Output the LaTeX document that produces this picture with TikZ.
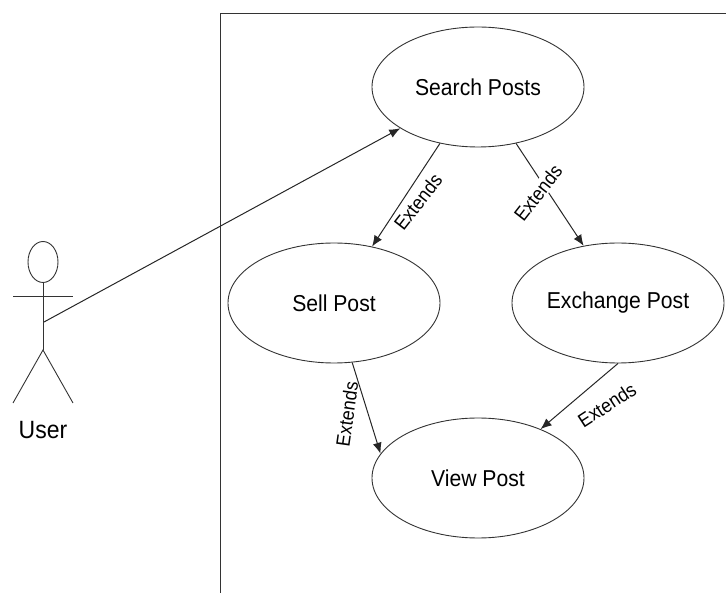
\documentclass[tikz,border=0pt]{standalone}
\usepackage{fontspec}
\setmainfont[FakeStretch=0.92]{Liberation Sans}
\usetikzlibrary{shapes,arrows.meta,positioning,calc}
\tikzset{
  usecase/.style={ellipse,draw,minimum width=212pt,minimum height=120pt,inner sep=0pt,font=\fontsize{23}{27}\selectfont},
  extlabel/.style={inner sep=1pt,font=\fontsize{19.5}{23}\selectfont},
  ext/.style={-{Latex[length=11pt,width=9pt]},line width=1pt,draw=black!85}
}
\begin{document}
\begin{tikzpicture}[x=1pt,y=-1pt,line width=0.9pt,draw=black!80]
  \useasboundingbox (0,0) rectangle (726,593);

  % system boundary
  \coordinate (framebl) at (220,593);
  \coordinate (frametl) at (220,13);
  \coordinate (frametr) at (726,13);
  \draw (framebl) -- (frametl) -- (frametr);

  % use cases
  \node[usecase] (search) at (478,87) {Search Posts};
  \node[usecase] (sell) at (334,303) {Sell Post};
  \node[usecase] (exchange) at (618,303) {Exchange Post};
  \node[usecase] (view) at (478,478) {View Post};

  % actor
  \node[ellipse,draw,minimum width=30pt,minimum height=41pt,inner sep=0pt] (head) at (43,262) {};
  \coordinate (armL) at (13,296);
  \coordinate (armR) at (73,296);
  \coordinate (hip) at (43,350);
  \coordinate (legL) at (13,403);
  \coordinate (legR) at (73,403);
  \coordinate (hand) at (44,322);
  \draw (head.south) -- (hip);
  \draw (armL) -- (armR);
  \draw (legL) -- (hip) -- (legR);
  \node[font=\fontsize{25}{29}\selectfont] (user) at (43,430) {User};

  \draw[ext] (hand) -- (search.208);

  % extends links
  \draw[ext] (search.236) -- (sell.56);
  \draw[ext] (search.304) -- (exchange.121);
  \draw[ext] (sell.287) -- (view.166);
  \draw[ext] (exchange.270) -- (view.38);

  \node[extlabel,rotate=52] (ext1) at (418,202) {Extends};
  \node[extlabel,fill=white,rotate=52] (ext2) at (538,193) {Extends};
  \node[extlabel,rotate=82] (ext3) at (347,414) {Extends};
  \node[extlabel,rotate=33] (ext4) at (607,405) {Extends};
\end{tikzpicture}
\end{document}
